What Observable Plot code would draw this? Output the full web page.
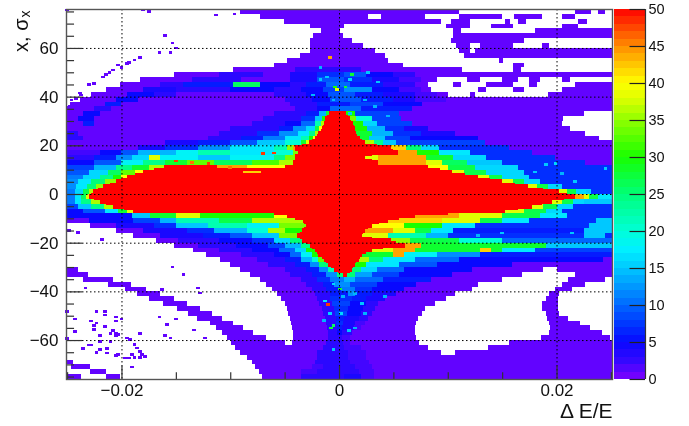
<!DOCTYPE html>
<html><head><meta charset="utf-8">
<script src="https://cdn.jsdelivr.net/npm/d3@7"></script>
<script src="https://cdn.jsdelivr.net/npm/@observablehq/plot@0.6"></script>
<style>
html,body{margin:0;padding:0;background:#fff}
#c{position:relative;width:689px;height:426px;overflow:hidden}
#c svg{position:absolute;left:0;top:0;font-family:"Liberation Sans",Arial,sans-serif;background:transparent;filter:blur(.35px)}
</style></head><body><div id="c"></div>
<script>
// Colour stops of the palette (z value -> colour)
const zStops=[0,2.5,5,7.5,10,12.5,15,17.5,20,25,30,35,38,40,45,50];
const zColors=["#8000ff","#3408ff","#0808ff","#0038ff","#0068ff","#0098ff","#00c8ff","#00f0ff","#00ffd8","#00ff78","#18ff00","#90ff00","#e0ff00","#ffff00","#ff8c00","#ff0000"];
// Row centres (x, sigma_x), one row = 2 sigma
const rowY=d3.range(75,-76,-2);
// Per row: [x0,z0,x1,z1,...] with x in units of 1e-4 dE/E; z=-1 is an empty bin; the last span runs to +251
const rowSpans=[
[-251,-1,-91,1,110,-1,217,1,232,-1,238,1,245,-1],
[-251,-1,-73,1,27,-1,39,1,79,-1,110,1,150,-1,161,1,187,-1,205,1,217,-1],
[-251,-1,-51,1,94,-1,103,1,120,-1,153,1,157,-1,165,1,172,-1,220,1,228,-1],
[-251,-1,-27,1,5,-1,98,1,120,-1,140,1,160,-1,205,1,220,-1],
[-251,-1,-17,1,1,-1,105,1,112,-1,180,1],
[-251,-1,-24,1,4,-1,105,1],
[-251,-1,-27,1,12,-1,103,1,170,-1],
[-251,-1,-27,1,22,-1,108,1,120,-1,130,1,160,-1,187,1,193,-1],
[-251,-1,-27,1,33,-1,110,1,120,-1,125,1],
[-251,-1,-36,1,42,-1,115,1],
[-251,-1,-48,1,45,-1,147,1,151,-1],
[-251,-1,-60,1,59,-1,160,1,170,-1],
[-251,-1,-97,1,-40,3,20,1,113,-1,160,1,167,-1],
[-251,-1,-152,1,-110,3,-70,1,-45,4,-20,7,5,9,25,5,50,3,70,1],
[-251,-1,-183,1,-135,3,-90,1,-45,4,-20,9,5,7,30,4,55,2,75,1,90,-1,118,1,130,-1,150,1,165,-1,175,1,185,-1,205,1,212,-1],
[-251,-1,-201,1,-165,3,-143,6,-97,26,-73,5,-45,3,-30,6,-12,10,10,6,40,3,70,1,82,-1,105,1,112,-1,135,1,160,-1,175,1,182,-1,217,1],
[-251,-1,-214,1,-180,4,-150,3,-100,5,-60,3,-35,5,-15,8,5,12,30,5,55,2,75,1,85,-1,128,1,135,-1,160,1,170,-1,205,1],
[-251,-1,-228,1,-195,5,-170,3,-150,1,-60,3,-30,5,-10,9,15,6,40,4,70,2,90,1,100,-1,120,1,125,-1,192,1],
[-251,-1,-238,1,-205,5,-185,1,-50,3,-25,5,-8,9,20,6,50,4,70,2,98,1],
[-251,-1,-247,1,-215,6,-200,1,-45,3,-20,6,10,8,40,5,76,1],
[-251,1,-225,3,-210,1,-40,3,-20,5,-8,10,20,6,67,1],
[-251,1,-235,5,-220,1,-60,3,-30,6,-18,14,-12,28,-9,50,6,30,15,8,55,1,225,-1],
[-251,1,-240,5,-225,1,-70,3,-35,7,-22,15,-16,30,-13,50,10,34,16,20,30,8,57,1,206,-1],
[-251,1,-235,6,-225,1,-80,3,-50,5,-35,10,-22,22,-17,36,-14,50,13,30,22,16,35,8,67,1,205,-1],
[-251,1,-100,3,-55,6,-42,12,-30,16,-22,27,-18,40,-16,50,15,30,26,14,42,7,60,4,82,1,212,-1],
[-251,3,-240,1,-110,3,-75,7,-55,12,-38,17,-28,24,-22,36,-19,50,16,28,30,14,50,7,75,4,107,1,226,-1],
[-251,3,-235,1,-120,3,-90,6,-70,11,-50,17,-35,22,-28,30,-24,40,-22,50,19,28,28,15,42,8,65,5,128,1,239,-1],
[-251,1,-160,4,-130,6,-100,9,-75,15,-50,20,-35,28,-30,38,-28,50,24,36,32,24,40,15,52,8,134,1],
[-251,1,-185,4,-160,7,-130,12,-100,17,-60,22,-48,35,-42,44,-40,50,48,42,62,25,75,16,92,7,156,1],
[-251,2,-220,5,-200,9,-185,14,-150,18,-130,22,-100,17,-60,20,-42,34,-38,50,54,44,72,30,92,17,120,7,177,1],
[-251,3,-225,6,-205,12,-190,16,-175,38,-165,18,-130,15,-100,18,-60,24,-50,34,-40,50,24,38,36,44,80,28,105,16,135,7,199,1],
[-251,5,-225,9,-200,18,-180,24,-160,28,-140,33,-115,26,-80,32,-55,36,-42,50,36,44,80,38,95,26,118,15,150,7,226,1],
[-251,8,-225,14,-205,24,-190,28,-175,36,-161,50,-112,44,-85,40,-50,50,82,40,100,27,125,16,165,7],
[-251,9,-230,16,-212,26,-200,33,-188,40,-180,50,-88,42,-72,50,104,38,115,27,135,16,170,7],
[-251,11,-235,16,-220,24,-208,30,-200,40,-195,50,128,38,138,27,150,16,175,7],
[-251,12,-240,17,-228,25,-215,35,-205,50,150,38,160,27,170,16,185,7],
[-251,12,-242,17,-232,25,-223,35,-217,50,174,38,182,27,192,16,205,7],
[-251,11,-243,16,-235,27,-230,36,-226,50,202,38,210,27,218,16,232,7],
[-251,11,-243,17,-237,26,-233,38,-230,50,217,44,225,38,230,27,238,17],
[-251,11,-243,17,-237,24,-228,36,-220,50,196,38,205,27,215,16,225,15],
[-251,8,-240,15,-228,24,-216,36,-208,50,177,38,188,27,200,16,215,7],
[-251,5,-235,9,-215,17,-203,28,-195,38,-189,50,153,38,170,27,190,16,205,7],
[-251,5,-190,15,-174,28,-150,38,-128,30,-60,40,-48,50,70,44,110,38,150,27,185,17,210,7],
[-251,1,-230,5,-189,8,-165,14,-150,22,-110,27,-80,36,-33,50,45,42,95,38,130,27,150,17,175,7,236,15],
[-251,-1,-229,1,-205,4,-170,7,-150,15,-120,22,-85,18,-55,34,-30,50,30,40,60,30,95,17,125,7,230,15],
[-251,-1,-205,1,-180,4,-140,7,-115,14,-85,20,-65,36,-50,30,-34,50,24,44,50,38,70,27,85,17,105,6,225,15],
[-251,-1,-189,1,-165,4,-125,6,-100,9,-80,15,-55,34,-39,50,21,38,45,22,80,14,100,7,225,15,245,7],
[-251,-1,-168,1,-148,3,-110,5,-80,7,-60,16,-45,25,-34,50,48,35,65,27,110,20,150,10],
[-251,-1,-152,1,-130,3,-95,5,-65,8,-50,14,-35,24,-27,50,61,44,75,28,190,15],
[-251,-1,-134,1,-110,3,-80,5,-55,10,-40,16,-30,30,-22,50,30,38,50,44,70,28,130,42,140,28,150,17,180,8],
[-251,-1,-122,1,-90,3,-60,5,-45,10,-35,18,-25,30,-19,50,21,28,50,44,60,18,90,12,130,6],
[-251,-1,-109,1,-75,3,-50,6,-35,14,-25,20,-19,33,-14,50,18,36,28,25,40,17,70,10,110,5,243,1],
[-251,-1,-100,1,-65,3,-40,6,-27,12,-18,25,-10,50,15,30,25,17,55,9,90,5,159,1],
[-251,1,-240,-1,-91,1,-50,3,-30,6,-18,12,-10,22,-5,50,12,25,20,16,35,10,60,5,122,1,188,-1,200,1],
[-251,1,-231,-1,-82,1,-45,3,-25,6,-12,12,-2,25,4,50,7,25,15,13,30,8,55,5,104,1,168,-1,217,1],
[-251,-1,-235,1,-208,-1,-73,1,-35,3,-20,7,-8,11,5,14,15,10,40,6,85,1,150,-1,211,1,245,-1],
[-251,-1,-212,1,-191,-1,-67,1,-30,3,-15,6,-5,12,10,8,35,5,71,1,128,-1,205,1,226,-1],
[-251,-1,-197,1,-177,-1,-62,1,-25,3,-12,6,2,11,15,7,30,5,60,1,122,-1,199,1,214,-1],
[-251,-1,-186,1,-165,-1,-57,1,-22,3,-8,6,8,12,15,6,30,4,52,1,107,-1,193,1,202,-1],
[-251,-1,-175,1,-152,-1,-53,1,-20,3,-8,7,12,6,25,4,42,1,98,-1,190,1,201,-1],
[-251,-1,-162,1,-140,-1,-50,1,-18,3,-6,8,10,5,25,3,36,1,88,-1,187,1,201,-1],
[-251,-1,-149,1,-128,-1,-48,1,-16,3,-5,7,8,5,22,3,33,1,79,-1,187,1,201,-1],
[-251,-1,-139,1,-117,-1,-47,1,-15,3,-4,8,7,5,20,3,30,1,76,-1,190,1,202,-1],
[-251,-1,-131,1,-108,-1,-45,1,-13,3,-3,6,5,4,18,3,27,1,73,-1,191,1,211,-1],
[-251,-1,-119,1,-97,-1,-44,1,-12,3,-3,7,4,4,15,2,24,1,71,-1,193,1,222,-1],
[-251,-1,-113,1,-88,-1,-43,1,-11,3,-2,6,3,4,14,2,20,1,70,-1,194,1,231,-1],
[-251,-1,-108,1,-79,-1,-42,1,-10,3,-2,5,3,3,12,1,70,-1,193,1,242,-1],
[-251,-1,-103,1,-67,-1,-42,1,-10,3,3,2,10,1,71,-1,186,1,249,-1],
[-251,-1,-99,1,-50,-1,-43,1,-12,3,4,2,10,1,74,-1,156,1],
[-251,-1,-96,1,-15,3,5,2,20,1,82,-1,137,1],
[-251,-1,-91,1,-20,3,8,2,25,1,94,-1,107,1],
[-251,-1,-85,1,-20,3,8,2,25,1],
[-251,1,-245,-1,-80,1,-22,3,10,2,28,1],
[-251,-1,-246,1,-229,-1,-77,1,-25,2,-15,3,15,2,30,1],
[-251,-1,-229,1,-214,-1,-74,1,-35,2,-20,3,18,2,32,1],
[-251,1,-237,-1,-214,1,-201,-1,-71,1,-35,3,5,4,20,2,32,1]
];
// Saturated core read again at even x: [y, left, right]
const redRows=[[32,-11,8],[30,-13,11],[28,-15,14],[26,-17,15],[24,-20,17],[22,-25,21],[20,-34,35],[18,-40,50],[16,-40,30],[14,-40,30],[10,-170,93],[8,-188,116],[6,-200,139],[4,-211,162],[2,-222,188],[0,-228,210],[-2,-225,207],[-4,-214,187],[-6,-198,165],[-8,-60,100],[-10,-40,55],[-12,-32,37],[-14,-32,27],[-16,-36,22],[-18,-36,30],[-20,-30,52],[-22,-25,40],[-24,-20,25],[-26,-16,19],[-28,-12,16],[-30,-7,13],[-32,-1,10]];
// Isolated bins [x (1e-4), y, z]
const specks=[
[-250,75.6,1],[-180,75.6,1],[-175,75,1],[-113,73.5,1],[-96,74,1],[-160,65,1],[-153,62,1],[-150,60,1],[-165,58,1],[-155,58,1],[-183,56,1],[-188,55,1],[-193,54,1],[-195,53.5,1],[-200,52,1],[-203,53,1],[-208,51,1],[-211,50,1],[-214,49,1],[-217,48,1],[-225,45.5,1],[-230,45,1],[-238,41.5,1],[-237,40.7,1],[-242,39.3,1],[-246,38.6,1],[-247,36,1],[-242,35,1],
[-248,-15,1],[-240,-15.8,1],[-218,-18.7,1],[-153,-30,1],[-143,-33,1],[-233,-38.6,1],[-163,-39.3,1],[-130,-38.6,1],[-128,-40.7,1],[-250,-48.4,1],[-223,-48.4,1],[-215,-48.4,1],[-215,-49.7,1],[-243,-51.4,1],[-228,-52.2,1],[-223,-53,1],[-225,-54,1],[-225,-55.8,1],[-215,-54.4,1],[-205,-50.5,1],[-200,-51.4,1],[-205,-52.2,1],[-165,-50.5,1],[-150,-51.4,1],[-158,-53.7,1],[-133,-55.9,1],[-208,-56,1],[-205,-57.1,1],[-210,-57.4,1],[-203,-57.8,1],[-183,-57.4,1],[-243,-56.6,1],[-250,-59.3,1],[-220,-58.2,1],[-210,-60.5,1],[-205,-58.2,1],[-160,-58.2,1],[-155,-59.2,1],[-123,-59.2,1],[-195,-59.2,1],[-192,-59.9,1],[-188,-61.9,1],[-186,-63.3,1],[-183,-64.7,1],[-181,-66,1],[-178,-66.7,1],[-183,-67.1,1],[-188,-67.1,1],[-193,-67.4,1],[-197,-67.4,1],[-190,-66,1],[-205,-66.3,1],[-203,-66,1],[-235,-63.6,1],[-230,-62,1],[-228,-62,1],[-220,-60.5,1],[-220,-64,1],[-223,-65,1],[-213,-63.6,1],[-213,-65.3,1],[-190,-71.1,1],
[12,49,28],[27,50,15],[36,46,15],[10,47,16],[6,44,28],[24,38.6,14],[33,36,14],[45,32,14],[10,33,15],[199,12.6,16],[190,12,15],[205,8.5,14],[180,9,15],[217,5,15],[229,1,15],[245,10.5,15],
[-8,56,44],[-17,52,14],[-11,48,15],[-4,44,30],[-2,43,38],[-17,47,15],[-24,40.7,14],[-5,38.6,14],
[-10,-45.5,48],[-5,-54,26],[-8,-49,16],[-13,-44,17],[-5,-64,15],[-14,-52,14],[1,-39,28],[-5,-37,16],[4,-42,14],[-7,-55,28],[2,-49,16],
[15,-41,14],[21,-45,15],[15,-55,14],[24,-49,14],[9,-56,15],[42,-42,14],[150,-16,15],[214,-16,15],[128,-17,14],
[-150,13.6,48],[-135,13,46],[-120,12.6,48],[-100,11,46],[-70,16.5,48],[-60,16.8,48]
];
const xMajor=[-0.02,0,0.02];
const xMinor=[-0.025,-0.015,-0.01,-0.005,0.005,0.01,0.015,0.025];
const yMajor=[-60,-40,-20,0,20,40,60];
const yMinor=[-75,-70,-65,-55,-50,-45,-35,-30,-25,-15,-10,-5,5,10,15,25,30,35,45,50,55,65,70,75];
const zTicks=[0,5,10,15,20,25,30,35,40,45,50];
const zBins=d3.range(0,50);
const xD=[-0.0251,0.0251], yD=[-76,76];

const cells=[];
rowSpans.forEach((s,r)=>{for(let i=0;i<s.length;i+=2){const z=s[i+1];if(z<0)continue;
  cells.push({x1:s[i]*1e-4,x2:(i+2<s.length?s[i+2]:251)*1e-4,y1:rowY[r]-1,y2:rowY[r]+1,z});}});
redRows.forEach(([y,l,r])=>cells.push({x1:l*1e-4,x2:r*1e-4,y1:y-.5,y2:y+.5,z:50}));
specks.forEach(([x,y,z])=>cells.push({x1:(x-1.75)*1e-4,x2:(x+1.75)*1e-4,y1:y-.55,y2:y+.55,z}));

const colorOpt={type:"linear",domain:zStops,range:zColors,interpolate:"rgb"};
const ink="#111", tick="#333";
const main=Plot.plot({width:689,height:426,marginLeft:66,marginRight:77,marginTop:9,marginBottom:47,
  x:{domain:xD},y:{domain:yD},color:colorOpt,
  marks:[
    Plot.rect(cells,{x1:"x1",x2:"x2",y1:"y1",y2:"y2",fill:"z",shapeRendering:"crispEdges"}),
    Plot.ruleX(xMajor,{stroke:"#000",strokeWidth:1,strokeDasharray:"1.5,2.5"}),
    Plot.ruleY(yMajor,{stroke:"#000",strokeWidth:1,strokeDasharray:"1.5,2.5"}),
    Plot.ruleX(xMajor,{y1:yD[0],y2:yD[0]+5.5,stroke:tick,strokeWidth:1.2}),
    Plot.ruleX(xMinor,{y1:yD[0],y2:yD[0]+2.8,stroke:tick,strokeWidth:1.2}),
    Plot.ruleY(yMajor,{x1:xD[0],x2:xD[0]+0.00147,stroke:tick,strokeWidth:1.2}),
    Plot.ruleY(yMinor,{x1:xD[0],x2:xD[0]+0.00074,stroke:tick,strokeWidth:1.2}),
    Plot.frame({stroke:"#555",strokeWidth:1.4}),
    Plot.axisX(xMajor,{tickSize:0,tickPadding:4,fontSize:17,label:null,color:ink,tickFormat:d=>d===0?"0":d3.format(".2f")(d).replace("-","\u2212")}),
    Plot.axisY(yMajor,{tickSize:0,tickPadding:8,fontSize:17,label:null,color:ink,tickFormat:d=>String(d).replace("-","\u2212")}),
    Plot.text(["\u0394 E/E"],{frameAnchor:"bottom-right",dy:38,dx:0,textAnchor:"end",fontSize:21,fill:ink}),
    Plot.text(["x, \u03c3"],{frameAnchor:"top-left",dx:-53,dy:9,rotate:-90,textAnchor:"end",fontSize:20,fill:ink}),
    Plot.text(["x"],{frameAnchor:"top-left",dx:-46,dy:1,rotate:-90,textAnchor:"end",fontSize:14,fill:ink})
  ]});
const bar=Plot.plot({width:689,height:426,marginLeft:614,marginRight:44,marginTop:9,marginBottom:47,
  x:{domain:[0,1],axis:null},y:{domain:[0,50]},color:colorOpt,
  marks:[
    Plot.rect(zBins,{x1:0,x2:1,y1:d=>d,y2:d=>d+1,fill:d=>d+.5,shapeRendering:"crispEdges"}),
    Plot.ruleY(zTicks,{x1:.5,x2:1,stroke:"#222",strokeWidth:1.2}),
    Plot.ruleX([1],{stroke:"#333",strokeWidth:1.2}),
    Plot.axisY(zTicks,{anchor:"right",tickSize:0,tickPadding:3,fontSize:14.5,label:null,color:ink})
  ]});
const c=document.getElementById("c");c.append(main);c.append(bar);
</script></body></html>
